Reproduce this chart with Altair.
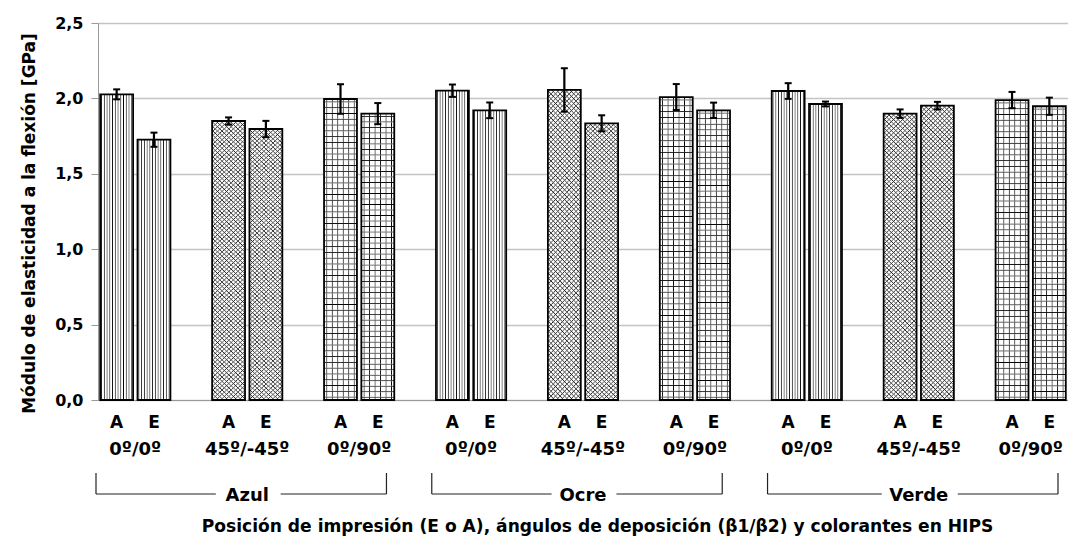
import altair as alt
import pandas as pd

# ---------------- data ----------------
colorantes = ["Azul", "Ocre", "Verde"]
angulos = ["0º/0º", "45º/-45º", "0º/90º"]
posiciones = ["A", "E"]
modulo = [2.027, 1.726, 1.850, 1.797, 1.996, 1.899,
          2.051, 1.921, 2.056, 1.835, 2.009, 1.921,
          2.049, 1.963, 1.899, 1.952, 1.989, 1.948]
error = [0.033, 0.047, 0.024, 0.054, 0.098, 0.070,
         0.041, 0.052, 0.144, 0.053, 0.086, 0.051,
         0.052, 0.016, 0.028, 0.025, 0.054, 0.057]
y_ticks = [0, 0.5, 1.0, 1.5, 2.0, 2.5]

rows = []
i = 0
for c in colorantes:
    for a in angulos:
        for p in posiciones:
            rows.append({"colorante": c, "angulo": a, "grupo": f"{c}|{a}",
                         "pos": p, "valor": modulo[i], "err": error[i]})
            i += 1
df = pd.DataFrame(rows)
grupos = list(dict.fromkeys(df["grupo"]))

# ---------------- layout / style ----------------
W, H = 970, 377
FONT = "DejaVu Sans"
PAD_IN = 1 / 3
step = W / (len(grupos) - PAD_IN)
bw = step * (1 - PAD_IN)
CLEAR = "rgba(255,255,255,0)"


def stripes(x1, y1, x2, y2, n, hw, col):
    """Soft (anti-aliased) line pattern: n lines, half-width hw in gradient units."""
    stops = []
    for k in range(n):
        c = (k + 0.5) / n
        a = max(c - hw, k / n)
        b = min(c + hw, (k + 1) / n)
        stops += [{"offset": round(a, 6), "color": CLEAR},
                  {"offset": round(c, 6), "color": col},
                  {"offset": round(b, 6), "color": CLEAR}]
    return {"gradient": "linear", "x1": x1, "y1": y1, "x2": x2, "y2": y2, "stops": stops}


x_enc = alt.X("grupo:N", sort=grupos,
              scale=alt.Scale(domain=grupos, paddingInner=PAD_IN, paddingOuter=0),
              axis=alt.Axis(labels=False, ticks=False, grid=False, domainColor="#9a9a9a",
                            domainWidth=1.2,
                            title="Posición de impresión (E o A), ángulos de deposición (β1/β2)  y colorantes en HIPS",
                            titleFont=FONT, titleFontSize=17.1, titleFontWeight="bold",
                            titleColor="black", titleX=499, titleY=131,
                            titleBaseline="alphabetic", titleAlign="center"))
xo_enc = alt.XOffset("pos:N", scale=alt.Scale(domain=posiciones, paddingInner=0.118, paddingOuter=0.059))
y_enc = alt.Y("valor:Q",
              scale=alt.Scale(domain=[0, 2.5], nice=False, zero=True),
              axis=alt.Axis(values=y_ticks,
                            labelExpr="replace(format(datum.value, '.1f'), '.', ',')",
                            labelFont=FONT, labelFontSize=16, labelFontWeight="bold",
                            labelColor="black", labelPadding=8,
                            tickSize=7, tickColor="#9a9a9a", domainColor="#9a9a9a",
                            gridColor="#c4c4c4", gridWidth=1.5,
                            title="Módulo de elasticidad a la flexión [GPa]",
                            titleFont=FONT, titleFontSize=17, titleFontWeight="bold",
                            titleColor="black", titleAngle=270, titleX=-64, titleY=200,
                            titleAlign="center", titleBaseline="alphabetic"))

base = alt.Chart(df)

bars_bg = base.mark_bar(fill="white").encode(x=x_enc, xOffset=xo_enc, y=y_enc)

# 0º/0º : vertical hatching
v00 = base.transform_filter(alt.datum.angulo == "0º/0º").mark_bar(
    fill=stripes(0, 0, 1, 0, 12, 0.03, "#000")).encode(x=x_enc, xOffset=xo_enc, y=y_enc)
# 0º/90º : square grid
v090 = base.transform_filter(alt.datum.angulo == "0º/90º").mark_bar(
    fill=stripes(0, 0, 1, 0, 6, 0.032, "#000")).encode(x=x_enc, xOffset=xo_enc, y=y_enc)
h090 = base.transform_filter(alt.datum.angulo == "0º/90º").mark_bar(
    fill=stripes(0, 1, 0, 0, 52, 0.0036, "#000")).encode(x=x_enc, xOffset=xo_enc, y=y_enc)
# 45º/-45º : diagonal cross-hatch
d45a = base.transform_filter(alt.datum.angulo == "45º/-45º").mark_bar(
    fill=stripes(0, 0, 0.1232, 1.1, 72, 0.0042, "#222")).encode(x=x_enc, xOffset=xo_enc, y=y_enc)
d45b = base.transform_filter(alt.datum.angulo == "45º/-45º").mark_bar(
    fill=stripes(0, 1, 0.1232, -0.1, 72, 0.0042, "#222")).encode(x=x_enc, xOffset=xo_enc, y=y_enc)

outline = base.mark_bar(fill="white", fillOpacity=0, stroke="black", strokeWidth=1.8).encode(
    x=x_enc, xOffset=xo_enc, y=y_enc)

err_base = base.transform_calculate(lo="datum.valor - datum.err", hi="datum.valor + datum.err")
err_rule = err_base.mark_rule(color="black", strokeWidth=2.2).encode(
    x=x_enc, xOffset=xo_enc, y="lo:Q", y2="hi:Q")
cap_lo = err_base.mark_tick(color="black", thickness=2, size=7, opacity=1).encode(
    x=x_enc, xOffset=xo_enc, y="lo:Q")
cap_hi = err_base.mark_tick(color="black", thickness=2, size=7, opacity=1).encode(
    x=x_enc, xOffset=xo_enc, y="hi:Q")

txt_pos = base.mark_text(font=FONT, fontSize=17, fontWeight="bold", color="black",
                         baseline="alphabetic").encode(
    x=x_enc, xOffset=xo_enc, text="pos:N", y=alt.value(405))

txt_ang = base.transform_filter(alt.datum.pos == "A").mark_text(
    font=FONT, fontSize=18, fontWeight="bold", color="black", baseline="alphabetic").encode(
    x=x_enc, text="angulo:N", y=alt.value(432))

txt_col = base.transform_filter((alt.datum.pos == "A") & (alt.datum.angulo == "45º/-45º")).mark_text(
    font=FONT, fontSize=18, fontWeight="bold", color="black", baseline="alphabetic").encode(
    x=x_enc, text="colorante:N", y=alt.value(478))

# bracket annotations under each colorant
one = pd.DataFrame({"k": [0]})
brackets = []
y_line, y_top = 471, 450
for ci, name in enumerate(colorantes):
    left = ci * 3 * step - 2
    right = (ci * 3 + 2) * step + bw - 10
    mid = (ci * 3 + 1) * step + bw / 2
    half = len(name) * 5.6
    segs = [
        (left, mid - half - 9, y_line, y_line),
        (mid + half + 11, right, y_line, y_line),
        (left, left, y_top, y_line),
        (right, right, y_top, y_line),
    ]
    for xa, xb, ya, yb in segs:
        brackets.append(alt.Chart(one).mark_rule(color="#222", strokeWidth=1.2).encode(
            x=alt.value(xa), x2=alt.value(xb), y=alt.value(ya), y2=alt.value(yb)))

chart = alt.layer(bars_bg, v00, v090, h090, d45a, d45b, outline,
                  err_rule, cap_lo, cap_hi, txt_pos, txt_ang, txt_col, *brackets).properties(
    width=W, height=H,
    autosize=alt.AutoSizeParams(type="none"),
    padding={"left": 90, "top": 15, "right": 0, "bottom": 137},
    background="white",
).configure_view(stroke=None)

chart.save("out.html", embed_options={"renderer": "svg", "actions": False})
